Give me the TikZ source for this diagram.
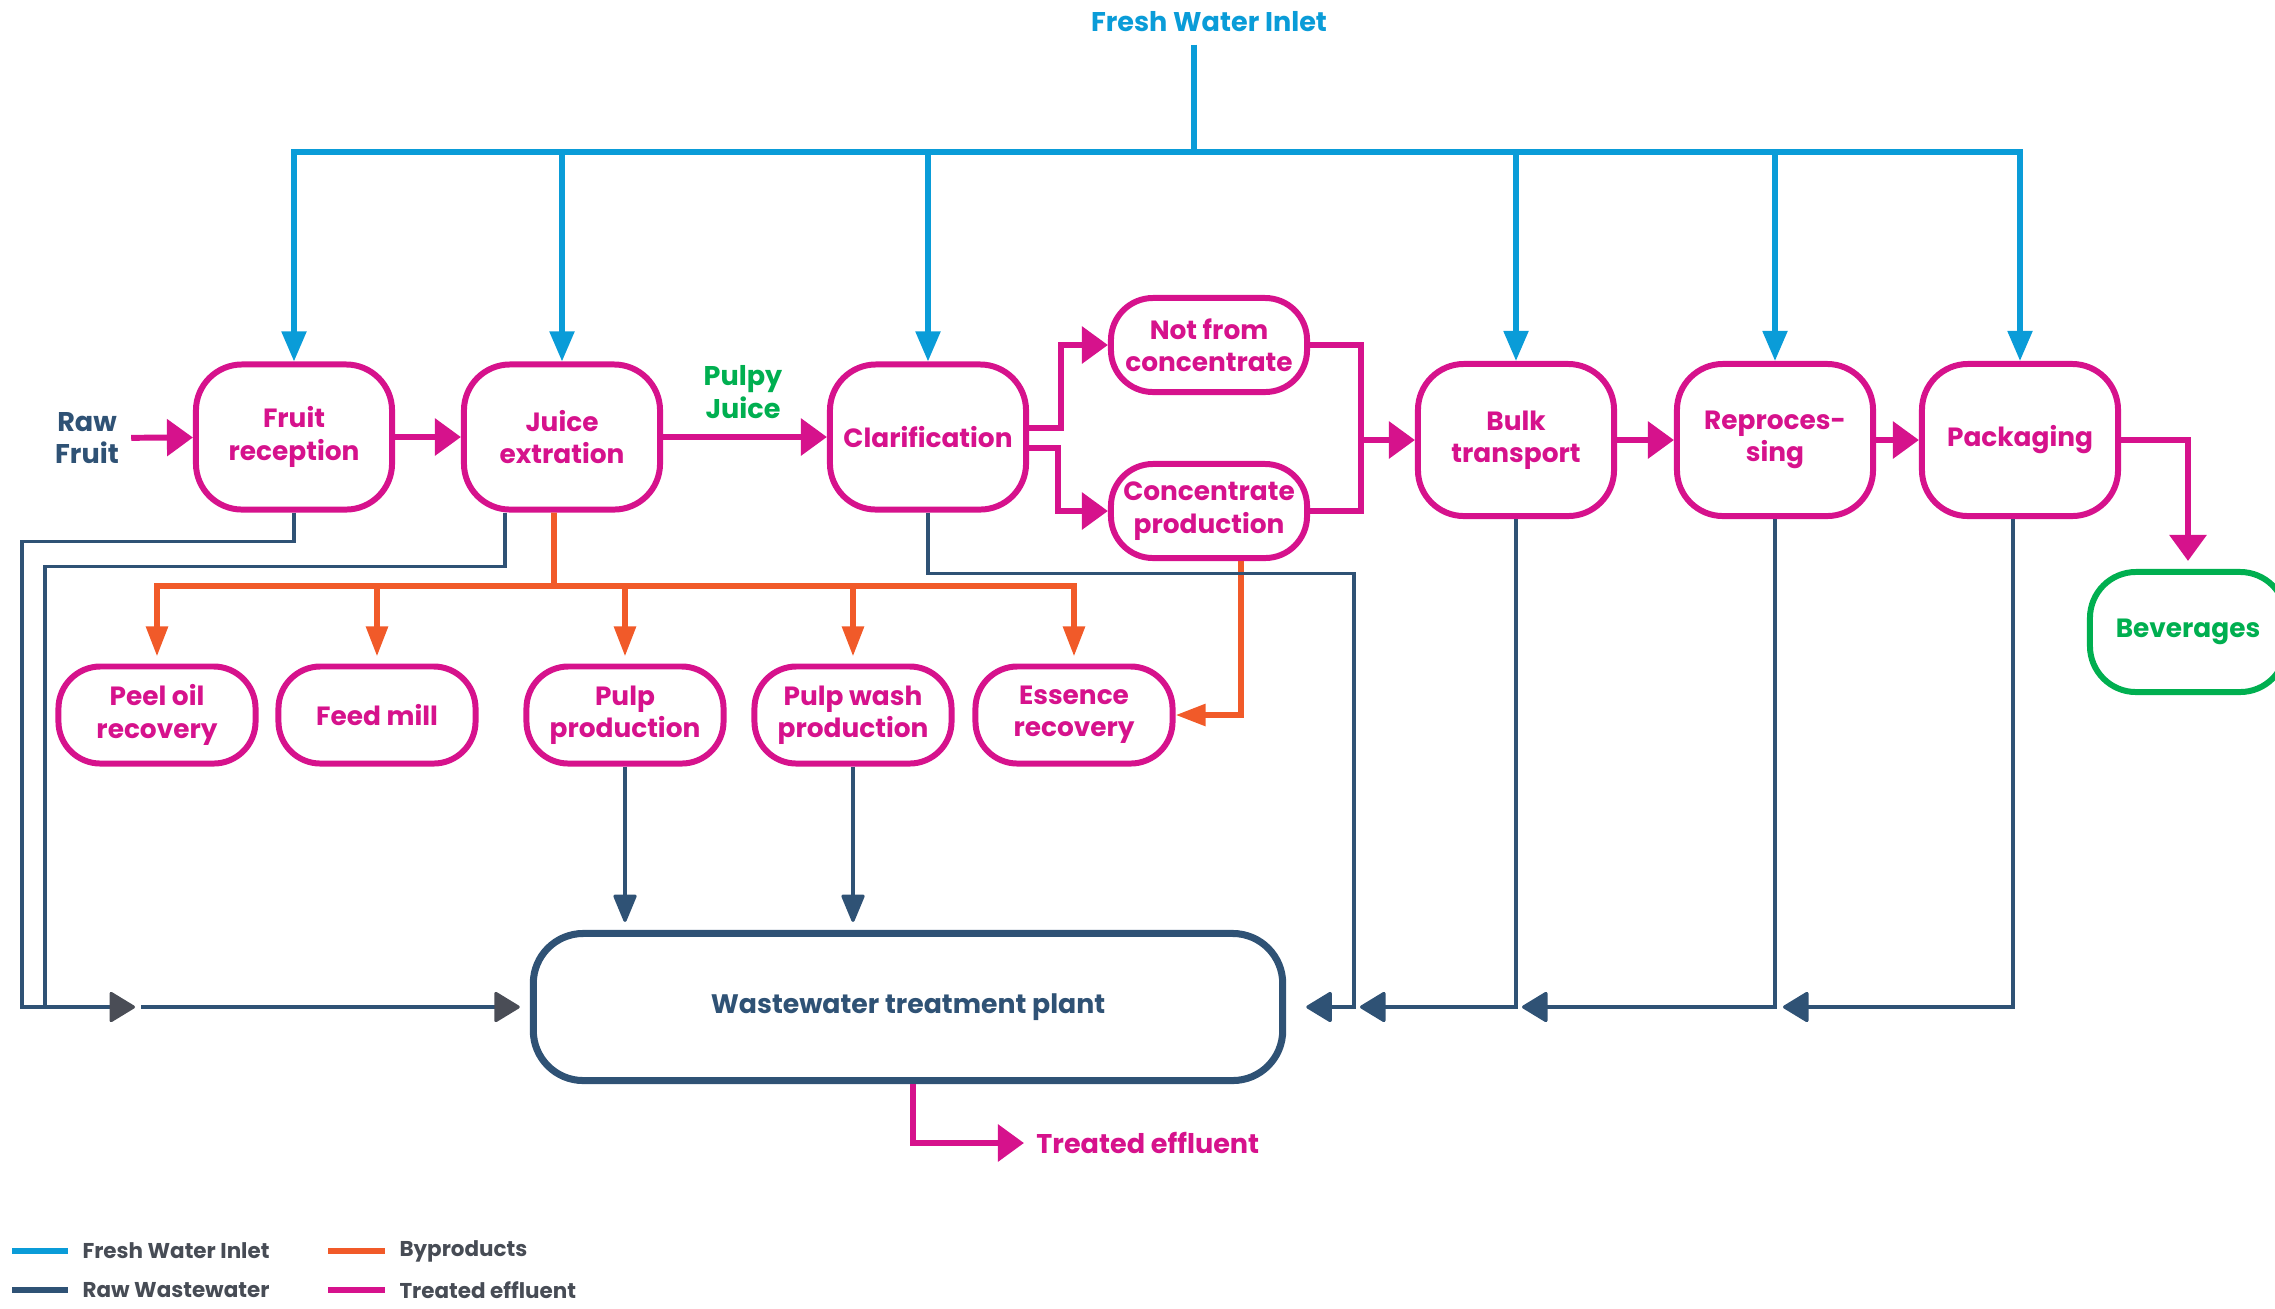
\documentclass[tikz,border=0pt]{standalone}
\usepackage{fontspec}
\setmainfont{Poppins}
\usepackage{tikz}
\usetikzlibrary{arrows.meta}
\definecolor{procmag}{HTML}{D6128C}
\definecolor{freshblue}{HTML}{0A9CD8}
\definecolor{rawblue}{HTML}{2F5275}
\definecolor{byporange}{HTML}{F15A29}
\definecolor{bevgreen}{HTML}{00AF50}
\definecolor{tipgrey}{HTML}{4A4D56}
\definecolor{legendgrey}{HTML}{474C55}
\tikzset {
  % rounded process boxes
  proc/.style = {draw=procmag, fill=white, line width=1.7pt, rounded corners=0.46cm,
    text=procmag, font=\bfseries\fontsize{7.5}{9.2}\selectfont, align=center,
    minimum width=1.96cm, minimum height=1.45cm, inner sep=0pt},
  half/.style = {minimum height=0.94cm, rounded corners=0.42cm},
  tallbox/.style = {minimum height=1.52cm},
  low/.style = {minimum width=1.97cm, minimum height=0.97cm, rounded corners=0.42cm},
  product/.style = {draw=bevgreen, text=bevgreen, minimum height=1.2cm},
  plant/.style = {draw=rawblue, fill=white, line width=2pt, rounded corners=0.5cm,
    text=rawblue, font=\bfseries\fontsize{7.6}{9.2}\selectfont,
    minimum width=7.49cm, minimum height=1.47cm},
  % free texts
  lbl/.style = {font=\bfseries\fontsize{7.7}{9.2}\selectfont, align=center},
  legtext/.style = {text=legendgrey, font=\bfseries\fontsize{6.1}{7}\selectfont, right},
  % streams
  fresh/.style = {freshblue, line width=1.45pt, >={Triangle[length=0.3cm, width=0.24cm]}},
  flow/.style = {procmag, line width=1.7pt, >={Triangle[length=0.26cm, width=0.36cm]}},
  byp/.style = {byporange, line width=1.6pt, >={Triangle[length=0.3cm, width=0.21cm]}},
  waste/.style = {rawblue, line width=0.9pt, >={Triangle[length=0.27cm, width=0.32cm, round]}},
  greytip/.style = {>={Triangle[length=0.27cm, width=0.32cm, round, color=tipgrey]}},
  down/.style = {>={Triangle[length=0.3cm, width=0.24cm, round]}},
  legline/.style = {line width=1.6pt},
}
\begin{document}
\begin{tikzpicture}[x=0.01cm, y=-0.01cm]
      \useasboundingbox (0,0) rectangle (2275,1308);

      \node[proc] (fruit) at (294,437) {Fruit\\reception};
      \node[proc] (juice) at (562,437) {Juice\\extration};
      \node[proc] (clar) at (928,437) {Clarification};
      \node[proc, half] (nfc) at (1209,345) {Not from\\concentrate};
      \node[proc, half] (cp) at (1209,511) {Concentrate\\production};
      \node[proc, tallbox] (bulk) at (1516,440) {Bulk\\transport};
      \node[proc, tallbox] (repro) at (1775,440) {Reproces-\\sing};
      \node[proc, tallbox] (pack) at (2020,440) {Packaging};
      \node[proc, product] (bev) at (2188,632) {Beverages};

      \node[proc, low] (peel) at (157,715) {Peel oil\\recovery};
      \node[proc, low] (feed) at (377,715) {Feed mill};
      \node[proc, low] (pulp) at (625,715) {Pulp\\production};
      \node[proc, low] (wash) at (853,715) {Pulp wash\\production};
      \node[proc, low] (ess) at (1074,715) {Essence\\recovery};

      \node[plant] (wwtp) at (908,1007) {Wastewater treatment plant};

      \node[lbl, text=freshblue] (inlet) at (1209,22) {Fresh Water Inlet};
      \node[lbl, text=rawblue] (raw) at (87,438) {Raw\\Fruit};
      \node[lbl, text=bevgreen] (pulpy) at (743,392) {Pulpy\\Juice};
      \node[lbl, text=procmag, anchor=west] (eff) at (1024,1143) {Treated effluent};

      \coordinate (bus) at (1194,152);
      \draw [fresh] (inlet.south -| bus) -- (bus);
      \draw [fresh, <->] (fruit.north) |- (bus) -| (pack.north);
      \foreach \n in {juice,clar,bulk,repro}
        \draw [fresh, ->] (\n.north |- bus) -- (\n.north);

      \draw [flow, ->] (raw) -- (fruit);
      \draw [flow, ->] (fruit) -- (juice);
      \draw [flow, ->] (juice) -- (clar);
      \draw [flow, ->] ([yshift=0.09cm]clar.east) -- ++(32,0) |- (nfc.west);
      \draw [flow, ->] ([yshift=-0.11cm]clar.east) -- ++(29,0) |- (cp.west);
      \coordinate (merge) at (1361,440);
      \draw [flow] (nfc.east) -| (merge) |- (cp.east);
      \draw [flow, ->] (merge) -- (bulk);
      \draw [flow, ->] (bulk) -- (repro);
      \draw [flow, ->] (repro) -- (pack);
      \draw [flow, ->] (pack.east) -| ([yshift=0.08cm]bev.north);

      \coordinate (bp) at (554,586);
      \draw [byp] ([xshift=-0.08cm]juice.south) -- (bp);
      \draw [byp, <->, shorten <=0.07cm, shorten >=0.07cm] (peel.north) |- (bp) -| (ess.north);
      \foreach \n in {feed,pulp,wash}
        \draw [byp, ->, shorten >=0.07cm] (\n.north |- bp) -- (\n.north);
      \draw [byp, ->] ([xshift=0.32cm]cp.south) |- (ess.east);

      \coordinate (wl) at (135,1007);
      \coordinate (in1) at (1360,1007);
      \coordinate (in2) at (1522,1007);
      \coordinate (in3) at (1783,1007);
      \draw [waste, greytip, ->] (fruit.south) -- ++(0,29) -| (22,1007) -- (wl);
      \draw [waste] ([xshift=-0.57cm]juice.south) -- ++(0,54) -| (45,1007);
      \draw [waste, greytip, ->, shorten <=0.06cm, shorten >=0.1cm] (wl) -- (wwtp.west);
      \draw [waste, ->, shorten >=0.2cm] (clar.south) -- ++(0,61) -| (1354,1007) -- (wwtp.east);
      \draw [waste, ->] (bulk.south) |- (in1);
      \draw [waste, ->] (repro.south) |- (in2);
      \draw [waste, ->] ([xshift=-0.07cm]pack.south) |- (in3);
      \draw [waste, down, ->, shorten >=0.08cm] (pulp) -- (pulp |- wwtp.north);
      \draw [waste, down, ->, shorten >=0.08cm] (wash) -- (wash |- wwtp.north);

      \draw [flow, ->] ([xshift=0.05cm]wwtp.south) |- (eff.west);

      \draw [fresh, legline] (12,1251) -- (68,1251) node[legtext] (lfresh) {Fresh Water Inlet};
      \draw [rawblue, legline] (12,1290) -- (68,1290) node[legtext] (lraw) {Raw Wastewater};
      \draw [byporange, legline] (328,1251) -- (385,1251) node[legtext] (lbyp) {Byproducts};
      \draw [procmag, legline] (328,1290) -- (385,1290) node[legtext] (leff) {Treated effluent};
\end{tikzpicture}
\end{document}
